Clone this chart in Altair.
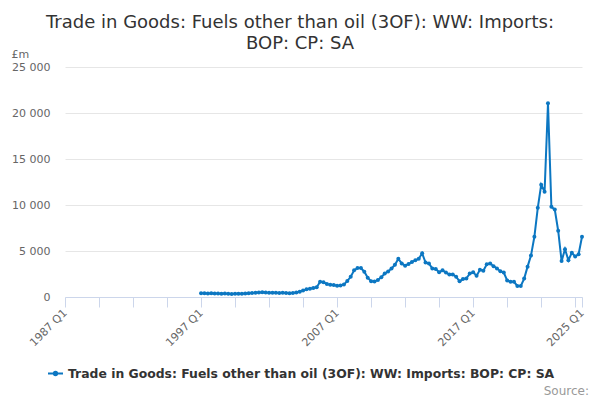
import altair as alt
import pandas as pd

SERIES = "Trade in Goods: Fuels other than oil (3OF): WW: Imports: BOP: CP: SA"
TITLE_LINES = ["Trade in Goods: Fuels other than oil (3OF): WW: Imports:", "BOP: CP: SA"]
START_YEAR = 1997

values = [
    420, 400, 380, 400,
    390, 370, 360, 390,
    340, 330, 340, 350,
    360, 380, 400, 430,
    460, 500, 520, 490,
    470, 460, 450, 440,
    450, 430, 410, 440,
    500, 580, 700, 830,
    900, 980, 1050, 1650,
    1600, 1400, 1330, 1300,
    1230, 1250, 1350, 1750,
    2200, 2900, 3150, 3150,
    2750, 2100, 1720, 1680,
    1850, 2150, 2550, 2780,
    3100, 3500, 4150, 3650,
    3400, 3600, 3800, 4000,
    4150, 4750, 3750, 3650,
    3100, 3050, 2700, 2900,
    2650, 2450, 2450, 2200,
    1700, 1950, 2000, 2550,
    2700, 2300, 2950, 2850,
    3550, 3650, 3350, 3100,
    2800, 2650, 1800, 1650,
    1650, 1200, 1200, 2000,
    3300, 4500, 6550, 9700,
    12200, 11450, 21050, 9800,
    9500, 7200, 3900, 5200,
    4000, 4800, 4400, 4650,
    6550,
]

quarters = [f"{START_YEAR + i // 4} Q{i % 4 + 1}" for i in range(len(values))]
x_ticks = [1987 + 2.5 * k for k in range(16)] + [2025]
x_labelled = [1987, 1997, 2007, 2017, 2025]
y_ticks = [0, 5000, 10000, 15000, 20000, 25000]

df = pd.DataFrame({"quarter": quarters, "value": values, "series": SERIES})
df["t"] = df["quarter"].apply(lambda s: int(s[:4]) + (int(s[-1]) - 1) / 4)

BLUE = "#0c77c2"
label_cond = "||".join(f"datum.value=={v}" for v in x_labelled)

line = alt.Chart(df).mark_line(
    strokeWidth=2,
    point=alt.OverlayMarkDef(filled=True, size=16, color=BLUE),
).encode(
    x=alt.X(
        "t:Q",
        scale=alt.Scale(domain=[1987, 2025], nice=False, zero=False),
        axis=alt.Axis(
            values=x_ticks,
            labelExpr=f"({label_cond}) ? datum.value + ' Q1' : ''",
            labelAngle=-45,
            labelAlign="right",
            labelBaseline="middle",
            labelPadding=4,
            labelFontSize=11,
            labelColor="#666666",
            labelOverlap=False,
            labelBound=False,
            labelFlush=False,
            grid=False,
            domainColor="#ccd6eb",
            tickColor="#ccd6eb",
            tickSize=10,
            title=None,
        ),
    ),
    y=alt.Y(
        "value:Q",
        scale=alt.Scale(domain=[0, 25000], nice=False),
        axis=alt.Axis(
            values=y_ticks,
            labelExpr="replace(format(datum.value, ','), ',', ' ')",
            labelFontSize=11,
            labelColor="#666666",
            labelPadding=15,
            domain=False,
            ticks=False,
            gridColor="#e6e6e6",
            title="£m",
            titleAngle=0,
            titleAlign="left",
            titleBaseline="alphabetic",
            titleX=-54,
            titleY=-10,
            titleFontSize=11,
            titleFontWeight="normal",
            titleColor="#666666",
        ),
    ),
    color=alt.Color(
        "series:N",
        scale=alt.Scale(domain=[SERIES], range=[BLUE]),
        legend=alt.Legend(
            title=None,
            orient="none",
            legendX=-18,
            legendY=298,
            padding=0,
            symbolType="M-1,0L1,0M-0.22,0A0.22,0.22 0 1,0 0.22,0A0.22,0.22 0 1,0 -0.22,0",
            symbolSize=225,
            symbolStrokeWidth=2,
            symbolFillColor=BLUE,
            labelFontSize=12.4,
            labelFontWeight="bold",
            labelColor="#333333",
            labelLimit=600,
            labelOffset=4,
        ),
    ),
)

source = alt.Chart(pd.DataFrame({"txt": ["Source:"]})).mark_text(
    align="right", baseline="alphabetic", fontSize=12, color="#999999"
).encode(text="txt:N", x=alt.value(524), y=alt.value(328))

chart = alt.layer(line, source).properties(
    width=517,
    height=230,
    autosize=alt.AutoSizeParams(type="none"),
    padding={"left": 57, "top": 59, "right": 10, "bottom": 100},
    title=alt.TitleParams(
        text=TITLE_LINES,
        fontSize=18,
        fontWeight="normal",
        color="#333333",
        anchor="middle",
        dx=-23.5,
        offset=-5,
        lineHeight=21,
    ),
).configure(font="DejaVu Sans").configure_view(stroke=None)

chart.save("out.html", embed_options={"renderer": "svg", "actions": False})
